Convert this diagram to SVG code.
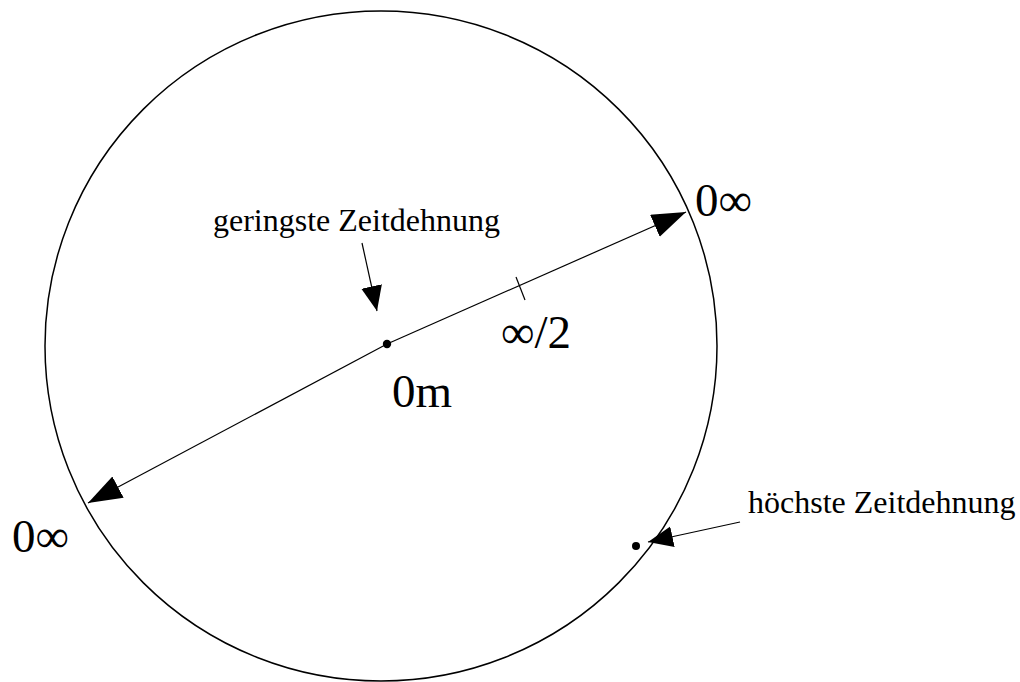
<svg xmlns="http://www.w3.org/2000/svg" width="1020" height="682" viewBox="0 0 1020 682">
<style>
.t{font-family:"Liberation Serif","Times New Roman",serif;fill:#000}
.big{font-size:47px}
.small{font-size:32px}
.ln{stroke:#000;stroke-width:1.2;fill:none}
</style>
<defs>
<marker id="bigHead" markerUnits="userSpaceOnUse" markerWidth="35" markerHeight="25" refX="34" refY="12" orient="auto">
<path d="M0,0 L34,12 L0,24 z" fill="#000"/>
</marker>
<marker id="smallHead" markerUnits="userSpaceOnUse" markerWidth="26" markerHeight="22" refX="25" refY="10.5" orient="auto">
<path d="M0,0 L25,10.5 L0,21 z" fill="#000"/>
</marker>
</defs>
<rect width="1020" height="682" fill="#fff"/>
<g id="circle">
<ellipse cx="381" cy="346" rx="336" ry="335" fill="none" stroke="#000" stroke-width="1.5"/>
</g>
<g id="connectors">
<line class="ln" x1="387" y1="344" x2="686" y2="212" marker-end="url(#bigHead)"/>
<line class="ln" x1="387" y1="344" x2="88" y2="503" marker-end="url(#bigHead)"/>
<line class="ln" x1="516" y1="277" x2="525" y2="300"/>
<line class="ln" x1="362" y1="243" x2="377" y2="311" marker-end="url(#smallHead)"/>
<line class="ln" x1="740" y1="522" x2="648" y2="542" marker-end="url(#smallHead)"/>
</g>
<g id="center">
<circle cx="387" cy="344" r="4.2" fill="#000"/>
<text class="t big" x="392" y="407">0m</text>
</g>
<g id="half">
<text class="t big" x="501" y="348">∞/2</text>
</g>
<g id="end-upper">
<text class="t big" x="695" y="216">0∞</text>
</g>
<g id="end-lower">
<text class="t big" x="12" y="552">0∞</text>
</g>
<g id="label-geringste">
<text class="t small" x="213" y="231">geringste Zeitdehnung</text>
</g>
<g id="label-hoechste">
<circle cx="636" cy="546" r="4" fill="#000"/>
<text class="t small" x="748" y="513">höchste Zeitdehnung</text>
</g>
</svg>
